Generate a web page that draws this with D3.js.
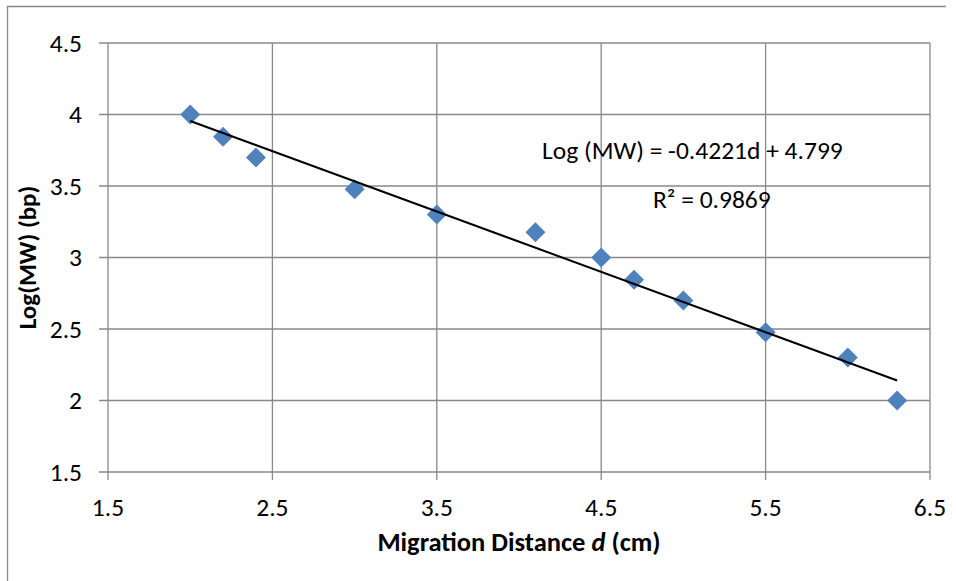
<!DOCTYPE html>
<html>
<head>
<meta charset="utf-8">
<script src="https://cdn.jsdelivr.net/npm/d3@7/dist/d3.min.js"></script>
<style>
  html, body { margin: 0; padding: 0; background: #fff; }
  svg { display: block; font-family: Carlito, Calibri, Lato, sans-serif; }
</style>
</head>
<body>
<div id="chart"></div>
<script>
// migration distance (cm) and log of fragment size
const distance = [2.0, 2.2, 2.4, 3.0, 3.5, 4.1, 4.5, 4.7, 5.0, 5.5, 6.0, 6.3];
const logMW    = [4.0, 3.845, 3.699, 3.477, 3.301, 3.176, 3.0, 2.845, 2.699, 2.477, 2.301, 2.0];

// trendline (from the figure)
const slope = -0.4221;
const intercept = 4.799;
const rSquared = 0.9869;

const xTicks = [1.5, 2.5, 3.5, 4.5, 5.5, 6.5];
const yTicks = [1.5, 2, 2.5, 3, 3.5, 4, 4.5];

const width = 956, height = 581;
const margin = { left: 108, top: 43, right: 26, bottom: 109 };
const gridColor = "#898989";

const svg = d3.select("#chart").append("svg").attr("width", width).attr("height", height);

// outer chart frame (only top and left are in view)
svg.append("path")
    .attr("d", `M7.5,${height} V6.5 H946`)
    .attr("fill", "none").attr("stroke", gridColor).attr("stroke-width", 1.3);

const x = d3.scaleLinear().domain([1.5, 6.5]).range([margin.left, width - margin.right]);
const y = d3.scaleLinear().domain([1.5, 4.5]).range([height - margin.bottom, margin.top]);

// grid
const grid = svg.append("g").attr("stroke", gridColor).attr("stroke-width", 1.3);
grid.selectAll("line.h").data(yTicks).enter().append("line")
    .attr("x1", x(1.5) - 9).attr("x2", x(6.5))
    .attr("y1", d => y(d)).attr("y2", d => y(d));
grid.selectAll("line.v").data(xTicks).enter().append("line")
    .attr("y1", y(4.5)).attr("y2", y(1.5) + 8)
    .attr("x1", d => x(d)).attr("x2", d => x(d));

// tick labels
svg.append("g").selectAll("text").data(yTicks).enter().append("text")
    .attr("x", 82).attr("y", d => y(d) + 8.5)
    .attr("text-anchor", "end")
    .style("font-size", "25.5px").style("fill", "#000")
    .text(d => d);

svg.append("g").selectAll("text").data(xTicks).enter().append("text")
    .attr("x", d => x(d)).attr("y", 516)
    .attr("text-anchor", "middle")
    .style("font-size", "25.5px").style("fill", "#000")
    .text(d => d);

// axis titles
const xt = svg.append("text")
    .attr("x", (x(1.5) + x(6.5)) / 2).attr("y", 551)
    .attr("text-anchor", "middle")
    .style("font-size", "26.5px").style("font-weight", "bold");
xt.append("tspan").text("Migration Distance ");
xt.append("tspan").style("font-style", "italic").text("d");
xt.append("tspan").text(" (cm)");

svg.append("text")
    .attr("transform", `translate(36,${(y(1.5) + y(4.5)) / 2}) rotate(-90)`)
    .attr("text-anchor", "middle")
    .style("font-size", "25px").style("font-weight", "bold")
    .text("Log(MW) (bp)");

// data points
const points = distance.map((d, i) => ({ d: d, v: logMW[i] }));
svg.append("g").selectAll("path").data(points).enter().append("path")
    .attr("d", d3.symbol(d3.symbolSquare, 200))
    .attr("transform", p => `translate(${x(p.d)},${y(p.v)}) rotate(45)`)
    .attr("fill", "#4F81BD");

// linear trendline
const x0 = d3.min(distance), x1 = d3.max(distance);
svg.append("line")
    .attr("x1", x(x0)).attr("y1", y(slope * x0 + intercept))
    .attr("x2", x(x1)).attr("y2", y(slope * x1 + intercept))
    .attr("stroke", "#000").attr("stroke-width", 2);

// equation labels
svg.append("text").attr("x", 542).attr("y", 159)
    .style("font-size", "25.5px")
    .text(`Log (MW) = ${slope}d + ${intercept}`);
svg.append("text").attr("x", 653).attr("y", 208)
    .style("font-size", "25.5px")
    .text(`R² = ${rSquared}`);
</script>
</body>
</html>
